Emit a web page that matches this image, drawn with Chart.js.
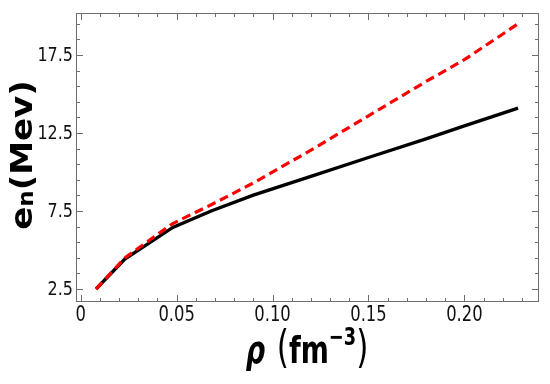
<!DOCTYPE html>
<html>
<head>
<meta charset="utf-8">
<script src="https://cdn.jsdelivr.net/npm/chart.js@4.4.0/dist/chart.umd.min.js"></script>
<style>
  body { margin: 0; background: #fff; }
</style>
</head>
<body>
<canvas id="myChart" width="550" height="384"></canvas>
<script>
// density rho (fm^-3) and energy per neutron (MeV)
const densities = [0.008, 0.023, 0.048, 0.068, 0.09, 0.12, 0.15, 0.18, 0.2, 0.228];
const energyBlack = [2.5, 4.42, 6.45, 7.5, 8.52, 9.72, 10.93, 12.13, 12.95, 14.1];
const energyRed = [2.5, 4.5, 6.7, 7.9, 9.3, 11.4, 13.6, 15.8, 17.2, 19.5];

const xTicks = [0, 0.05, 0.10, 0.15, 0.20];
const xTickLabels = ['0', '0.05', '0.10', '0.15', '0.20'];
const yTicks = [2.5, 7.5, 12.5, 17.5];
const yTickLabels = ['2.5', '7.5', '12.5', '17.5'];

const xMinor = [];
for (let i = 0; i <= 23; i++) xMinor.push(i / 100);
const yMinor = [];
for (let i = 0; i <= 17; i++) yMinor.push(2.5 + i);

const toPoints = (xs, ys) => xs.map((v, i) => ({ x: v, y: ys[i] }));

// draw a run of text pieces with a horizontal squeeze, centred on 0
function drawRuns(ctx, runs, sx) {
  let total = 0;
  runs.forEach(r => { ctx.font = r.f; r.w = ctx.measureText(r.t).width; total += r.w; });
  ctx.scale(sx, 1);
  let cx = -total / 2;
  ctx.textAlign = 'left';
  ctx.textBaseline = 'alphabetic';
  runs.forEach(r => {
    ctx.font = r.f;
    ctx.fillText(r.t, cx, r.dy || 0);
    cx += r.w;
  });
}

const framePlugin = {
  id: 'frame',
  afterDraw(chart) {
    const { ctx, chartArea: a, scales: { x, y } } = chart;
    ctx.save();
    ctx.strokeStyle = '#6e6e6e';
    ctx.lineWidth = 1;
    ctx.strokeRect(a.left + 0.5, a.top + 0.5, a.right - a.left - 1, a.bottom - a.top - 1);

    const seg = (x1, y1, x2, y2) => { ctx.beginPath(); ctx.moveTo(x1, y1); ctx.lineTo(x2, y2); ctx.stroke(); };
    const xt = (v, len) => {
      const p = Math.round(x.getPixelForValue(v)) + 0.5;
      seg(p, a.bottom, p, a.bottom - len);
      seg(p, a.top, p, a.top + len);
    };
    const yt = (v, len) => {
      const p = Math.round(y.getPixelForValue(v)) + 0.5;
      seg(a.left, p, a.left + len, p);
      seg(a.right, p, a.right - len, p);
    };
    xMinor.forEach(v => xt(v, 4));
    yMinor.forEach(v => yt(v, 4));
    xTicks.forEach(v => xt(v, 7));
    yTicks.forEach(v => yt(v, 7));

    // tick labels
    ctx.fillStyle = '#111';
    ctx.textBaseline = 'middle';
    yTicks.forEach((v, i) => {
      ctx.save();
      ctx.translate(a.left - 3, y.getPixelForValue(v) + 1);
      ctx.scale(0.8, 1);
      ctx.font = '20px "DejaVu Sans"';
      ctx.textAlign = 'right';
      ctx.fillText(yTickLabels[i], 0, 0);
      ctx.restore();
    });
    xTicks.forEach((v, i) => {
      ctx.save();
      ctx.translate(x.getPixelForValue(v), a.bottom + 14);
      ctx.scale(0.78, 1);
      ctx.font = '21px "DejaVu Sans"';
      ctx.textAlign = 'center';
      ctx.fillText(xTickLabels[i], 0, 0);
      ctx.restore();
    });

    // axis titles
    ctx.fillStyle = '#000';
    ctx.save();
    ctx.translate(307, 363);
    drawRuns(ctx, [
      { t: 'ρ', f: 'italic bold 38px "DejaVu Sans"' },
      { t: '  ', f: 'bold 24px "DejaVu Sans"' },
      { t: '(', f: '44px "DejaVu Sans"', dy: -1 },
      { t: 'fm', f: 'bold 38px "DejaVu Sans"' },
      { t: '−3', f: 'bold 25px "DejaVu Sans"', dy: -18 },
      { t: ')', f: '44px "DejaVu Sans"', dy: -1 }
    ], 0.71);
    ctx.restore();

    ctx.save();
    ctx.translate(32, 155);
    ctx.rotate(-Math.PI / 2);
    ctx.scale(1, 0.9);
    drawRuns(ctx, [
      { t: 'e', f: 'bold 34px "DejaVu Sans"' },
      { t: 'n', f: 'bold 23px "DejaVu Sans"', dy: 1 },
      { t: '(Mev)', f: 'bold 34px "DejaVu Sans"' }
    ], 1);
    ctx.restore();

    ctx.restore();
  }
};

const ctx = document.getElementById('myChart');
const myChart = new Chart(ctx, {
  type: 'line',
  data: {
    datasets: [{
      label: 'red',
      data: toPoints(densities, energyRed),
      borderColor: '#ff0000',
      borderWidth: 3.2,
      borderDash: [9, 5],
      pointRadius: 0,
      tension: 0,
      fill: false
    }, {
      label: 'black',
      data: toPoints(densities, energyBlack),
      borderColor: '#000000',
      borderWidth: 3.4,
      pointRadius: 0,
      tension: 0,
      fill: false
    }]
  },
  options: {
    responsive: false,
    animation: false,
    devicePixelRatio: 1,
    layout: { padding: { left: 76, right: 11, top: 13, bottom: 82 } },
    plugins: { legend: { display: false }, tooltip: { enabled: false } },
    scales: {
      x: { type: 'linear', display: false, min: -0.00245, max: 0.2389 },
      y: { type: 'linear', display: false, min: 1.67, max: 20.19 }
    }
  },
  plugins: [framePlugin]
});
</script>
</body>
</html>
